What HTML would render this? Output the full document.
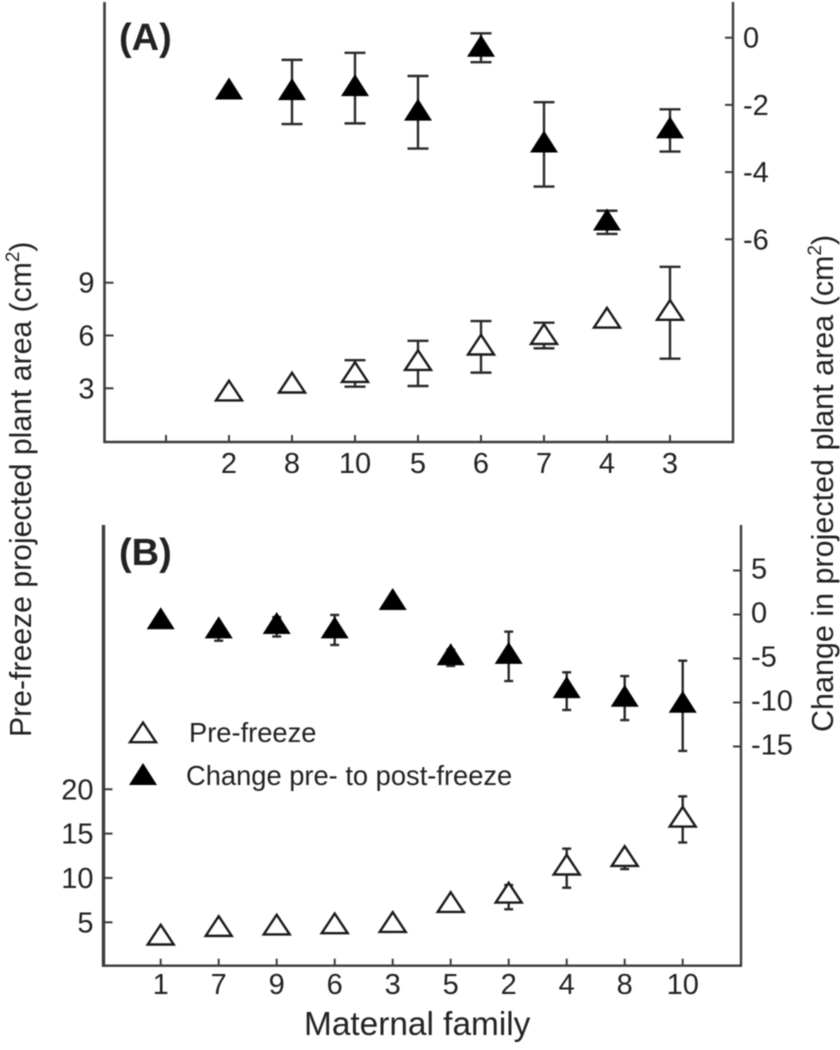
<!DOCTYPE html>
<html lang="en">
<head>
<meta charset="utf-8">
<title>Pre-freeze and change in projected plant area by maternal family</title>
<style>
  html, body { margin: 0; padding: 0; background: #fff; }
  #figure { display: block; width: 840px; height: 1050px; filter: blur(0.55px); font-family: "Liberation Sans", Arial, sans-serif; fill: #222; }
</style>
</head>
<body>
<svg id="figure" xmlns="http://www.w3.org/2000/svg" width="840" height="1050" viewBox="0 0 840 1050">
  <rect width="840" height="1050" fill="#fff"/>
  <g id="panel-a"></g>
  <g id="panel-b"></g>
  <text x="119" y="50" font-size="38" font-weight="bold">(A)</text>
  <text x="119" y="565" font-size="38" font-weight="bold">(B)</text>
  <text transform="translate(31 737) rotate(-90)" font-size="30.2">Pre-freeze projected plant area (cm<tspan font-size="19" dy="-12">2</tspan><tspan dy="12">)</tspan></text>
  <text transform="translate(833 732) rotate(-90)" font-size="30.5">Change in projected plant area (cm<tspan font-size="19" dy="-12">2</tspan><tspan dy="12">)</tspan></text>
  <text x="304" y="1035" font-size="33.4">Maternal family</text>
  <g id="legend">
    <text x="189" y="742" font-size="27.3">Pre-freeze</text>
    <text x="186" y="785" font-size="27.3">Change pre- to post-freeze</text>
  </g>
</svg>
<script>
// Panel A data
const familiesA = ["2", "8", "10", "5", "6", "7", "4", "3"];
const preA = [2.72, 3.17, 3.77, 4.45, 5.33, 5.93, 6.86, 7.30];
const preHighA = [null, null, 4.60, 5.70, 6.82, 6.73, null, 9.90];
const preLowA = [null, null, 3.09, 3.13, 3.89, 5.27, null, 4.68];
const changeA = [-1.60, -1.62, -1.50, -2.23, -0.33, -3.18, -5.50, -2.76];
const changeHighA = [null, -0.66, -0.45, -1.14, 0.13, -1.92, -5.15, -2.13];
const changeLowA = [null, -2.57, -2.55, -3.30, -0.73, -4.43, -5.84, -3.39];
const leftTicksA = [3, 6, 9];
const rightTicksA = [0, -2, -4, -6];

// Panel B data
const familiesB = ["1", "7", "9", "6", "3", "5", "2", "4", "8", "10"];
const preB = [3.31, 4.28, 4.44, 4.58, 4.73, 6.98, 8.04, 11.2, 12.17, 16.6];
const preHighB = [null, null, null, null, null, null, 9.2, 13.3, 12.8, 19.2];
const preLowB = [null, null, null, null, null, 6.6, 6.47, 8.9, 11.0, 14.0];
const changeB = [-0.77, -1.80, -1.30, -1.80, 1.42, -4.86, -4.70, -8.60, -9.57, -10.25];
const changeHighB = [null, -1.4, -0.3, -0.05, null, -4.0, -1.95, -6.57, -7.0, -5.25];
const changeLowB = [null, -2.98, -2.5, -3.46, null, -5.85, -7.56, -10.85, -12.0, -15.5];
const leftTicksB = [5, 10, 15, 20];
const rightTicksB = [5, 0, -5, -10, -15];

const SVGNS = "http://www.w3.org/2000/svg";

function line(parent, name, x1, y1, x2, y2, stroke, width) {
  const el = document.createElementNS(SVGNS, "line");
  
  
  el.setAttribute("x1", x1);
  el.setAttribute("y1", y1);
  el.setAttribute("x2", x2);
  el.setAttribute("y2", y2);
  el.setAttribute("stroke", stroke);
  el.setAttribute("stroke-width", width);
  parent.appendChild(el);
  return el;
}

function label(parent, name, x, y, content, anchor, size) {
  const el = document.createElementNS(SVGNS, "text");
  
  
  el.setAttribute("x", x);
  el.setAttribute("y", y);
  el.setAttribute("text-anchor", anchor);
  el.setAttribute("font-size", size);
  el.textContent = content;
  parent.appendChild(el);
  return el;
}

function triangle(parent, name, cx, cy, filled) {
  const el = document.createElementNS(SVGNS, "polygon");
  
  
  if (filled) {
    el.setAttribute("points", [cx, cy - 14, cx + 14, cy + 8, cx - 14, cy + 8].join(" "));
    el.setAttribute("fill", "#000");
  } else {
    el.setAttribute("points", [cx, cy - 12.5, cx + 13, cy + 7.2, cx - 13, cy + 7.2].join(" "));
    el.setAttribute("fill", "#fff");
    el.setAttribute("stroke", "#1a1a1a");
    el.setAttribute("stroke-width", 2.4);
  }
  parent.appendChild(el);
  return el;
}

function drawSeries(parent, prefix, families, values, highs, lows, xScale, yScale, filled, capHalf) {
  values.forEach(function (value, i) {
    const x = xScale(i);
    const cy = yScale(value);
    if (highs[i] !== null && lows[i] !== null) {
      const hi = yScale(highs[i]);
      const lo = yScale(lows[i]);
      line(parent, prefix + "-error-bar-" + families[i], x, hi, x, lo, "#2a2a2a", 2.4);
      line(parent, prefix + "-error-cap-high-" + families[i], x - capHalf, hi, x + capHalf, hi, "#2a2a2a", 2.4);
      line(parent, prefix + "-error-cap-low-" + families[i], x - capHalf, lo, x + capHalf, lo, "#2a2a2a", 2.4);
    }
    triangle(parent, prefix + "-point-" + families[i], x, cy, filled);
  });
}

function drawPanel(cfg) {
  const g = document.getElementById(cfg.id);
  const p = cfg.key;
  line(g, p + "-left-axis", cfg.left, cfg.top, cfg.left, cfg.bottom + 1, "#3c3c3c", cfg.leftWidth);
  line(g, p + "-right-axis", cfg.right, cfg.top, cfg.right, cfg.bottom + 1, "#3c3c3c", 2.4);
  line(g, p + "-bottom-axis", cfg.left - 1, cfg.bottom, cfg.right + 1, cfg.bottom, "#3c3c3c", 2.4);

  cfg.families.forEach(function (fam, i) {
    const x = cfg.x(i);
    line(g, p + "-x-tick-" + fam, x, cfg.bottom, x, cfg.bottom - 7, "#3c3c3c", 2);
    label(g, p + "-x-label-" + fam, x, cfg.xLabelY, fam, "middle", 29);
  });
  if (cfg.extraTick) {
    line(g, p + "-x-tick-blank", cfg.x(-1), cfg.bottom, cfg.x(-1), cfg.bottom - 7, "#3c3c3c", 2);
  }
  cfg.leftTicks.forEach(function (t) {
    const y = cfg.yLeft(t);
    line(g, p + "-left-tick-" + t, cfg.left, y, cfg.left + 9, y, "#3c3c3c", 2);
    label(g, p + "-left-label-" + t, cfg.left - 10, y + cfg.leftLabelDy, String(t), "end", 29);
  });
  cfg.rightTicks.forEach(function (t) {
    const y = cfg.yRight(t);
    line(g, p + "-right-tick-" + t, cfg.right, y, cfg.right - 8, y, "#3c3c3c", 2);
    label(g, p + "-right-label-" + t, cfg.right + 10, y + cfg.rightLabelDy, String(t), "start", 29);
  });

  drawSeries(g, p + "-pre-freeze", cfg.families, cfg.pre, cfg.preHigh, cfg.preLow, cfg.x, cfg.yLeft, false, cfg.capHalf);
  drawSeries(g, p + "-change", cfg.families, cfg.change, cfg.changeHigh, cfg.changeLow, cfg.x, cfg.yRight, true, cfg.capHalf);
}

function xScaleA(i) { return 229 + 63 * i; }
function yLeftA(v) { return 388.3 - (v - 3) * 17.6; }
function yRightA(v) { return 37.7 - 33.6 * v; }
function xScaleB(i) { return 160.7 + 58 * i; }
function yLeftB(v) { return 922.3 - (v - 5) * 8.87; }
function yRightB(v) { return 614.5 - 8.8 * v; }

drawPanel({
  id: "panel-a", key: "panel-a",
  left: 104.5, right: 733, top: 2, bottom: 442, leftWidth: 2.6,
  x: xScaleA, yLeft: yLeftA, yRight: yRightA,
  families: familiesA, extraTick: true, xLabelY: 473,
  leftTicks: leftTicksA, rightTicks: rightTicksA,
  leftLabelDy: 10, rightLabelDy: 10, capHalf: 10.5,
  pre: preA, preHigh: preHighA, preLow: preLowA,
  change: changeA, changeHigh: changeHighA, changeLow: changeLowA
});

drawPanel({
  id: "panel-b", key: "panel-b",
  left: 103.5, right: 741, top: 525, bottom: 965.7, leftWidth: 3.4,
  x: xScaleB, yLeft: yLeftB, yRight: yRightB,
  families: familiesB, extraTick: false, xLabelY: 994,
  leftTicks: leftTicksB, rightTicks: rightTicksB,
  leftLabelDy: 10, rightLabelDy: 8, capHalf: 4.5,
  pre: preB, preHigh: preHighB, preLow: preLowB,
  change: changeB, changeHigh: changeHighB, changeLow: changeLowB
});

const legend = document.getElementById("legend");
triangle(legend, "legend-marker-pre-freeze", 143, 735, false);
triangle(legend, "legend-marker-change", 143, 777, true);
</script>
</body>
</html>
